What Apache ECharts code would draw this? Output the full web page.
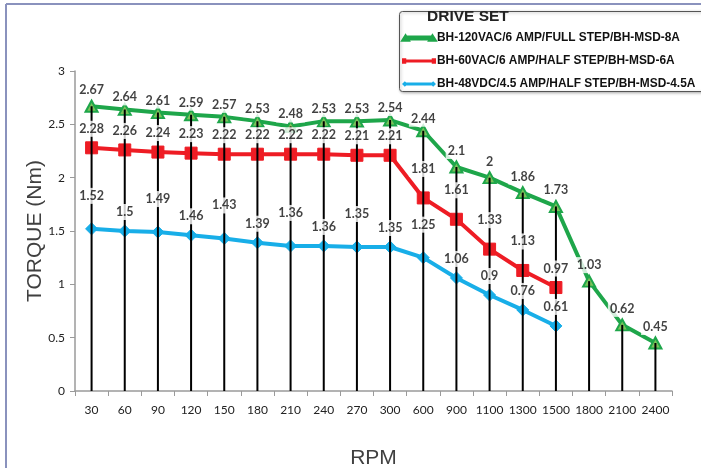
<!DOCTYPE html>
<html>
<head>
<meta charset="utf-8">
<script src="https://cdn.jsdelivr.net/npm/echarts@6/dist/echarts.min.js"></script>
<style>
html,body{margin:0;padding:0;background:#fff;}
#chart{width:701px;height:468px;}
</style>
</head>
<body>
<div id="chart"></div>
<script>
var categories = ['30','60','90','120','150','180','210','240','270','300','600','900','1100','1300','1500','1800','2100','2400'];
var yTicks = [0, 0.5, 1, 1.5, 2, 2.5, 3];
var seriesNames = ['BH-120VAC/6 AMP/FULL STEP/BH-MSD-8A','BH-60VAC/6 AMP/HALF STEP/BH-MSD-6A','BH-48VDC/4.5 AMP/HALF STEP/BH-MSD-4.5A'];
var green = [2.67,2.64,2.61,2.59,2.57,2.53,2.48,2.53,2.53,2.54,2.44,2.1,2,1.86,1.73,1.03,0.62,0.45];
var red   = [2.28,2.26,2.24,2.23,2.22,2.22,2.22,2.22,2.21,2.21,1.81,1.61,1.33,1.13,0.97,null,null,null];
var blue  = [1.52,1.5,1.49,1.46,1.43,1.39,1.36,1.36,1.35,1.35,1.25,1.06,0.9,0.76,0.61,null,null,null];

var GREEN = '#1ea64a', RED = '#ee1c24', BLUE = '#18aee8';

// drop line height = highest value at each category
var dropVals = categories.map(function(c, i){
  var m = null;
  [green, red, blue].forEach(function(a){ if (a[i] != null && (m == null || a[i] > m)) m = a[i]; });
  return m;
});

function offG(i){ return (i === 0 || i >= 11) ? -16 : -12; }
function offR(i){ return (i >= 10 && i <= 13) ? -29 : -19; }
function offB(i){ return (i <= 10 && i % 2 === 0) ? -33 : -19; }

function labelData(arr, fn){
  return arr.map(function(v, i){
    if (v == null) return null;
    return { value: v, label: { offset: [0, fn(i)] } };
  });
}

var labelStyle = {
  show: true, position: 'inside', color: '#111', fontFamily: 'Lato', fontWeight: 'bold', fontSize: 12.5,
  backgroundColor: '#fff', padding: [2, 2, 1, 2],
  formatter: function(p){ return String(p.value); }
};

function labelSeries(name, arr, fn){
  return {
    name: name, type: 'scatter', symbolSize: 0, z: 5, silent: true,
    data: labelData(arr, fn), label: labelStyle
  };
}

var triPath = 'path://M0,10 L5,0 L10,10 Z';
var iconG = 'path://M0,10 L5,2 L10,10 Z M8,4 L40,4 L40,8 L8,8 Z M38,10 L43,2 L48,10 Z';
var iconR = 'path://M0,2 L6,2 L6,10 L0,10 Z M6,4 L42,4 L42,8 L6,8 Z M42,2 L48,2 L48,10 L42,10 Z';
var iconB = 'path://M0,6 L4,2 L8,6 L4,10 Z M4,4 L44,4 L44,8 L4,8 Z M40,6 L44,2 L48,6 L44,10 Z';

var chart = echarts.init(document.getElementById('chart'), null, {renderer: 'canvas'});
chart.setOption({
  animation: false,
  backgroundColor: '#fff',
  textStyle: { fontFamily: 'Lato' },
  grid: { left: 75, right: 29, top: 71, bottom: 77, containLabel: false, outerBoundsMode: 'none' },
  graphic: [
    { type: 'line', shape: { x1: 6, y1: 4, x2: 701, y2: 4 }, style: { stroke: '#8a92bd', lineWidth: 2 }, z: 0 },
    { type: 'line', shape: { x1: 6, y1: 4, x2: 6, y2: 468 }, style: { stroke: '#8a92bd', lineWidth: 2 }, z: 0 },
    { type: 'rect', shape: { x: 399.5, y: 11.5, width: 310, height: 80, r: 3 },
      style: { fill: '#fff', stroke: '#555', lineWidth: 1, shadowBlur: 3, shadowColor: 'rgba(0,0,0,0.3)', shadowOffsetX: 1, shadowOffsetY: 1 }, z: 10 },
    { type: 'text', left: 427, top: 9, z: 11,
      style: { text: 'DRIVE SET', fill: '#222', font: '900 15.5px "Liberation Sans"' } }
  ],
  legend: {
    orient: 'vertical', left: 401, top: 32, itemGap: 11, itemWidth: 34, itemHeight: 10, z: 12,
    padding: 0,
    textStyle: { fontFamily: 'Liberation Sans', fontWeight: 'bold', fontSize: 11.9, color: '#111', padding: [0,0,0,-4] },
    data: [
      { name: seriesNames[0], icon: iconG, itemStyle: { color: GREEN } },
      { name: seriesNames[1], icon: iconR, itemStyle: { color: RED } },
      { name: seriesNames[2], icon: iconB, itemStyle: { color: BLUE } }
    ]
  },
  xAxis: {
    type: 'category', data: categories, boundaryGap: true,
    name: 'RPM', nameLocation: 'middle', nameGap: 57, nameMoveOverlap: false,
    nameTextStyle: { fontFamily: 'Liberation Sans', fontSize: 21, color: '#404040' },
    axisLine: { lineStyle: { color: '#9a9a9a', width: 1.5 } },
    axisTick: { show: true, length: 5, lineStyle: { color: '#9a9a9a' }, alignWithLabel: false },
    axisLabel: { color: '#222', fontFamily: 'Lato', fontSize: 12, margin: 13, interval: 0 },
    splitLine: { show: false }
  },
  yAxis: {
    type: 'value', min: 0, max: 3, interval: 0.5,
    name: 'TORQUE (Nm)', nameLocation: 'middle', nameGap: 29, nameRotate: 90, nameMoveOverlap: false,
    nameTextStyle: { fontFamily: 'Liberation Sans', fontSize: 21, color: '#404040' },
    axisLine: { show: true, lineStyle: { color: '#9a9a9a', width: 1.5 } },
    axisTick: { show: true, length: 5, lineStyle: { color: '#9a9a9a' } },
    axisLabel: { color: '#222', fontFamily: 'Lato', fontSize: 12, margin: 10,
      formatter: function(v){ return yTicks.indexOf(v) >= 0 ? String(v) : ''; } },
    splitLine: { show: false }
  },
  series: [
    { name: seriesNames[0], type: 'line', data: green, z: 2, symbol: triPath, symbolSize: [12, 11],
      lineStyle: { color: GREEN, width: 4 }, itemStyle: { color: '#7cc35a', borderColor: GREEN, borderWidth: 2 } },
    { name: seriesNames[1], type: 'line', data: red, z: 2, symbol: 'rect', symbolSize: 12,
      lineStyle: { color: RED, width: 4 }, itemStyle: { color: RED, borderColor: RED } },
    { name: seriesNames[2], type: 'line', data: blue, z: 2, symbol: 'diamond', symbolSize: 12,
      lineStyle: { color: BLUE, width: 4 }, itemStyle: { color: BLUE, borderColor: BLUE } },
    { name: 'drop', type: 'bar', data: dropVals, barWidth: 2, z: 3, silent: true,
      itemStyle: { color: '#000' } },
    labelSeries('lg', green, offG),
    labelSeries('lr', red, offR),
    labelSeries('lb', blue, offB)
  ]
});
</script>
</body>
</html>
